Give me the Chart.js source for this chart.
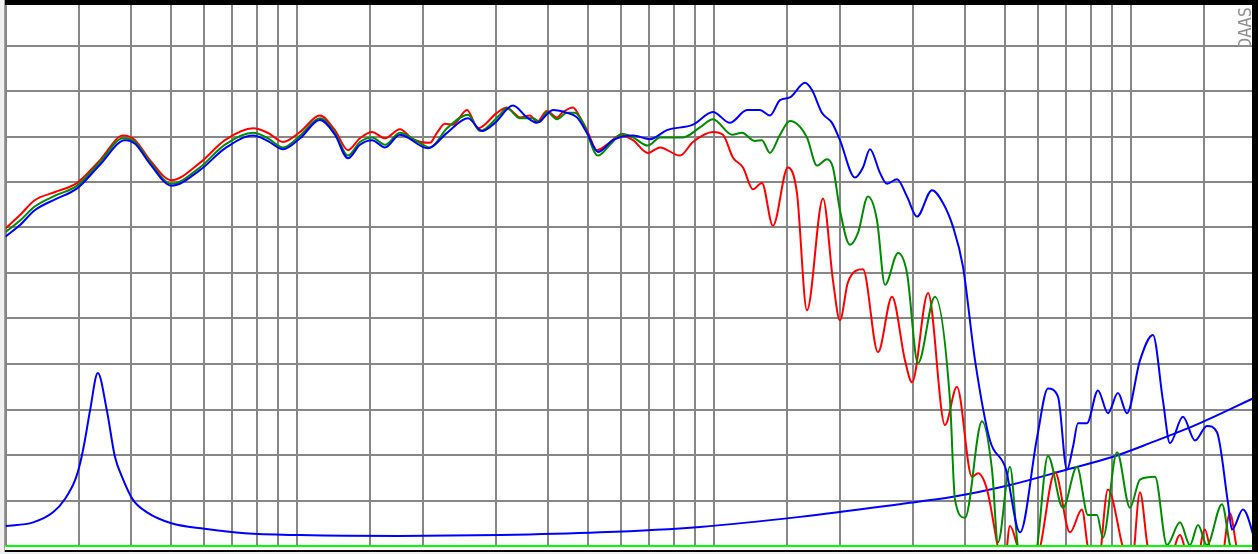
<!DOCTYPE html>
<html>
<head>
<meta charset="utf-8">
<script src="https://cdn.jsdelivr.net/npm/chart.js@4/dist/chart.umd.min.js"></script>
<style>
  html, body { margin: 0; padding: 0; background: #ffffff; }
  #wrap { width: 1258px; height: 554px; }
</style>
</head>
<body>
<div id="wrap"><canvas id="myChart" width="1258" height="554"></canvas></div>
<script>
// grid lines (Hz)
const freqGrid = [20, 30, 40, 50, 60, 70, 80, 90, 100, 150, 200, 300, 400, 500, 600, 700, 800, 900,
    1000, 1500, 2000, 3000, 4000, 5000, 6000, 7000, 8000, 9000, 10000, 15000, 20000];

// red trace
const redFreq = [20, 21.7, 23.5, 26.3, 29.7, 33.7, 38.3, 40.9, 44.4, 50, 58.5, 67.2, 78.5, 85.2, 92.6,
    101.7, 113.5, 123.3, 132.5, 141.6, 151.3, 162.6, 176.6, 189.7, 208.4, 216.6, 226.4, 236.6, 255.7, 271.8,
    301.7, 318.8, 329.6, 342.6, 362.1, 376.3, 397.7, 420.3, 434.5, 459.1, 477.2, 496, 524.2, 554, 595.3,
    639.3, 694.6, 742.1, 828.7, 890.4, 994.5, 1051, 1110, 1174, 1240, 1303, 1385, 1504, 1581, 1671, 1826,
    1929, 2005, 2096, 2277, 2474, 2673, 2871, 2985, 3261, 3581, 3825, 4157, 4297, 4516, 4798, 4950, 5127,
    5358, 5700, 6052, 6573, 7141, 7628, 7886, 8300, 8806, 9568, 10000, 10510, 10980, 12000, 13110, 13470,
    14200, 15040, 15470, 16300, 17270, 17950, 20000];
const redDb = [74.9, 76.4, 78.0, 78.9, 79.9, 82.4, 85.1, 84.6, 82.4, 80.2, 82.1, 84.6, 85.9, 85.4, 84.4,
    85.5, 87.3, 85.7, 83.5, 84.8, 85.5, 84.8, 85.8, 84.7, 84.3, 85.4, 86.4, 86.3, 87.9, 85.9,
    87.6, 88.2, 87.7, 87.1, 87.3, 86.6, 87.8, 87.1, 87.7, 88.2, 87.1, 85.7, 83.5, 84.1, 85.1,
    84.6, 83.2, 83.8, 82.9, 84.4, 85.5, 85.2, 82.7, 81.6, 79.2, 79.9, 75.2, 81.6, 78.8, 65.9, 78.2,
    69.2, 64.8, 69.0, 70.4, 61.3, 67.4, 60.4, 58.0, 67.8, 53.3, 57.5, 47.6, 48.0, 46.2, 39.8, 37, 42.2,
    39.8, 36, 39.8, 48.1, 41.5, 44.0, 39.8, 37, 46.2, 39.8, 37, 45.9, 39.8, 36, 41.2, 39.8,
    37, 41.8, 39.8, 37, 43.6, 39.8, 35];

// green trace
const greenFreq = [20, 21.7, 23.5, 26.3, 29.7, 33.7, 38.3, 40.9, 44.4, 50, 58.5, 67.2, 78.5, 85.2, 92.6,
    101.7, 113.5, 123.3, 132.5, 141.6, 151.3, 162.6, 176.6, 191.9, 208.4, 229, 257.1, 274.8, 306.8, 318.8,
    342.6, 368.1, 382.5, 397.7, 420.3, 444.2, 464.2, 485.1, 527.1, 563.2, 601.8, 639.3, 694.6, 742.1, 842.6,
    925.7, 994.5, 1105, 1167, 1254, 1303, 1362, 1440, 1521, 1671, 1766, 1866, 1929, 2005, 2119, 2215,
    2340, 2460, 2571, 2763, 2903, 3085, 3388, 3681, 3784, 3999, 4393, 4642, 4798, 5127, 5358, 5700, 5953,
    6323, 6870, 7421, 7886, 8287, 8566, 9257, 9945, 10510, 11420, 12200, 13110, 13850, 14480, 15210,
    16530, 17270, 18500];
const greenDb = [74.5, 75.8, 77.3, 78.5, 79.6, 82.2, 84.8, 84.4, 82.2, 79.8, 81.6, 84.1, 85.4, 84.8, 83.8,
    85.1, 87.0, 85.4, 82.9, 84.4, 84.9, 84.1, 85.4, 84.6, 83.8, 85.9, 87.4, 85.6, 87.4, 88.1,
    87.0, 87.0, 86.6, 87.7, 86.9, 87.6, 87.6, 86.5, 82.9, 84.1, 85.3, 84.9, 84.0, 84.9, 84.9,
    86.0, 86.9, 85.2, 85.4, 84.5, 84.6, 83.2, 85.2, 86.7, 84.9, 81.8, 82.5, 81.6, 76.9, 73.1, 74.4,
    78.4, 75.8, 68.7, 72.2, 70.0, 60.1, 67.4, 56.0, 45.1, 43.1, 53.7, 48.4, 40.4, 48.7, 39.8, 36, 39.8,
    49.9, 44.2, 48.7, 43.4, 43.4, 40.9, 50.3, 44.2, 47.3, 47.6, 40.1, 42.6, 40.1, 42.3, 40.1,
    44.6, 40.1, 36];

// blue trace
const blueFreq = [20, 21.7, 23.5, 26.3, 29.7, 33.7, 38.7, 40.9, 44.4, 50, 58.5, 67.2, 78.5, 85.2, 92.6,
    101.7, 113.5, 123.3, 132.5, 141.6, 151.3, 162.6, 176.6, 206.1, 229, 257.1, 277.8, 298.5, 329.6, 356.1,
    376.3, 411.1, 444.2, 469.3, 496, 527.1, 572.6, 639.3, 702.3, 771.4, 890.4, 994.5, 1092, 1200, 1289,
    1362, 1440, 1521, 1653, 1718, 1815, 1919, 2005, 2178, 2277, 2366, 2501, 2600, 2748, 2903, 3068,
    3333, 3541, 3742, 3955, 4227, 4591, 5000, 5419, 5953, 6323, 6685, 7023, 7260, 7462, 7845, 8333,
    8806, 9307, 9781, 10510, 11290, 11930, 12400, 13320, 14240, 15210, 16080, 17090, 17470, 18560, 20000];
const blueDb = [74.0, 75.3, 76.9, 78.1, 79.3, 81.9, 84.6, 84.2, 82.0, 79.6, 81.3, 83.7, 85.1, 84.5, 83.6,
    84.8, 86.8, 85.2, 82.6, 84.1, 84.6, 83.8, 85.2, 83.7, 85.4, 87.0, 85.6, 86.5, 88.4, 87.1,
    86.5, 87.9, 87.6, 87.1, 85.4, 83.3, 84.6, 85.1, 84.7, 85.7, 86.3, 87.7, 86.5, 87.9, 87.9,
    87.3, 89.0, 89.3, 90.9, 90.1, 87.6, 86.5, 84.6, 80.5, 81.6, 83.6, 81.0, 79.8, 80.3, 78.4, 76.2,
    79.1, 77.7, 75.1, 70.7, 60.4, 51.6, 48.6, 41.5, 51.9, 57.3, 56.4, 48.4, 50.9, 53.5, 53.5, 57.1,
    54.6, 56.8, 54.6, 60.4, 63.2, 56.0, 51.3, 54.2, 51.6, 53.2, 52.5, 44.7, 41.8, 44.0, 40.1];

// impedance trace (blue, lower)
const impFreq = [20, 23.3, 26.0, 27.8, 29.4, 30.2, 31.0, 31.9, 33.3, 35.0, 36.6, 38.3, 40.4, 43.7, 50, 60, 75,
    101.7, 176.6, 306.8, 533, 925.7, 1608, 2793, 3742, 5127, 7023, 9054, 11100, 14640, 20000];
const impVal = [42.2, 42.6, 43.7, 45.2, 47.3, 49.1, 51.6, 54.9, 59.0, 54.9, 49.8, 47.3, 45.1, 43.7, 42.5, 41.9, 41.4,
    41.2, 41.1, 41.2, 41.5, 42.1, 43.2, 44.6, 45.4, 46.7, 48.4, 49.8, 51.3, 53.5, 56.4];

// bright green base line
const baseFreq = [20, 20000];
const baseVal = [40, 40];

const toPoints = (xs, ys) => xs.map((x, i) => ({ x: x, y: ys[i] }));

const trace = (xs, ys, color) => ({
    data: toPoints(xs, ys),
    borderColor: color,
    borderWidth: 2,
    pointRadius: 0,
    fill: false,
    cubicInterpolationMode: 'monotone'
});

// frame around the plot, like the original program window
const framePlugin = {
    id: 'frame',
    beforeDraw(chart) {
        const ctx = chart.ctx;
        ctx.save();
        ctx.fillStyle = '#ffffff';
        ctx.fillRect(0, 0, chart.width, chart.height);
        ctx.fillStyle = '#f0f0f0';
        ctx.fillRect(0, 0, 4, chart.height);
        ctx.fillRect(0, 552, chart.width, 2);
        ctx.restore();
    },
    afterDraw(chart) {
        const ctx = chart.ctx;
        ctx.save();
        ctx.fillStyle = '#a0a0a0';
        ctx.fillRect(4, 0, 1, 552);
        ctx.fillStyle = '#000000';
        ctx.fillRect(5, 0, chart.width - 5, 5);
        ctx.fillRect(1252, 0, 6, 552);
        ctx.fillRect(5, 550, chart.width - 5, 2);
        ctx.translate(1251, 48);
        ctx.rotate(-Math.PI / 2);
        ctx.fillStyle = '#909090';
        ctx.font = '17px "DejaVu Sans Mono"';
        ctx.textBaseline = 'alphabetic';
        ctx.fillText('DAAS', 0, 0);
        ctx.restore();
    }
};

const myChartRef = document.getElementById('myChart').getContext('2d');
new Chart(myChartRef, {
    type: 'line',
    data: {
        datasets: [
            Object.assign(trace(baseFreq, baseVal, '#00ff00'), { cubicInterpolationMode: 'default', tension: 0, clip: false }),
            trace(blueFreq, blueDb, '#0000ff'),
            trace(greenFreq, greenDb, '#008c00'),
            trace(redFreq, redDb, '#ff0000'),
            trace(impFreq, impVal, '#0000ff')
        ]
    },
    options: {
        responsive: false,
        animation: false,
        layout: { padding: { left: 5.5, right: 1.5, top: 0, bottom: 8 } },
        plugins: {
            legend: { display: false },
            tooltip: { enabled: false }
        },
        scales: {
            x: {
                type: 'logarithmic',
                min: 20,
                max: 20000,
                afterBuildTicks: (scale) => {
                    scale.ticks = freqGrid.map(v => ({ value: v }));
                },
                ticks: { display: false },
                grid: { color: '#878787', lineWidth: 2, drawTicks: false },
                border: { display: false }
            },
            y: {
                min: 40,
                max: 100,
                ticks: { display: false, stepSize: 5 },
                grid: { color: '#878787', lineWidth: 2, drawTicks: false },
                border: { display: false }
            }
        }
    },
    plugins: [framePlugin]
});
</script>
</body>
</html>
